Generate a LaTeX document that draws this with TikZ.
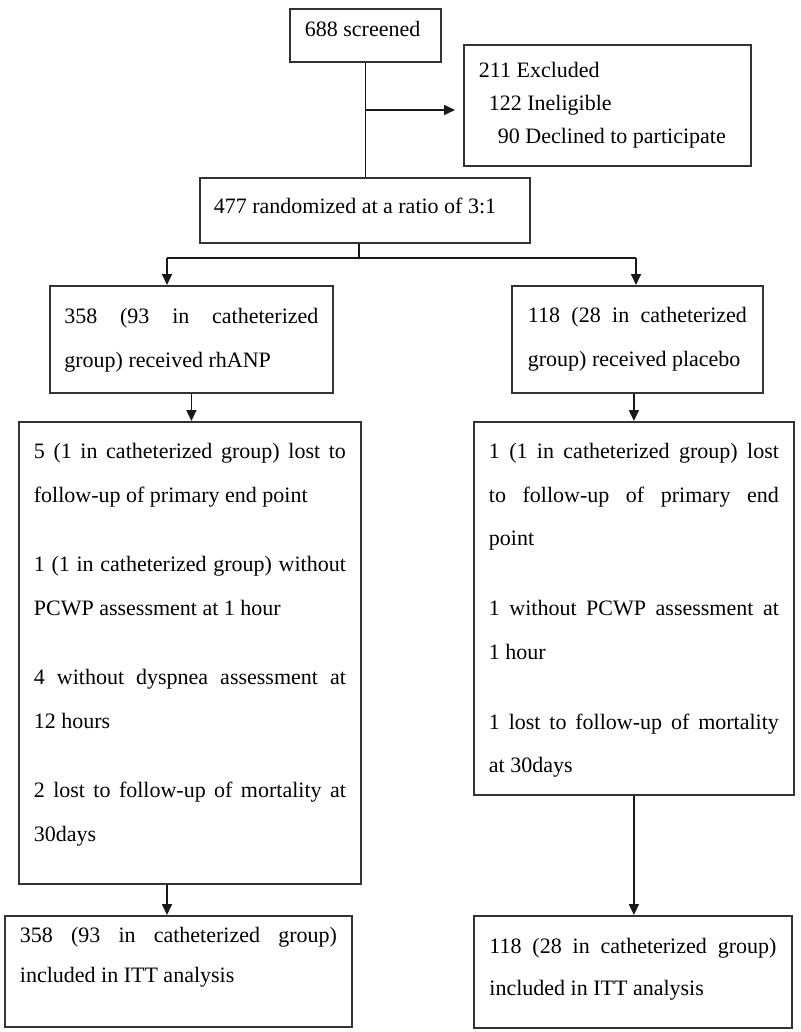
\documentclass[tikz,border=0pt]{standalone}
\usepackage{fontspec}
\setmainfont{Liberation Serif}
\usetikzlibrary{arrows.meta,calc}
\newcommand{\bxt}[5]{\parbox[c][#1][t]{#2}{\fontsize{22pt}{#4}\selectfont\tolerance=10000\hbadness=10000\hyphenpenalty=10000\exhyphenpenalty=10000\rule{0pt}{#3}#5}}
\tikzset{
  box/.style={draw=black!80, line width=1.8pt, inner ysep=0pt, anchor=north west, text=black},
  conn/.style={draw=black!90, line width=1.7pt},
  arr/.style={conn, -{Triangle[length=11pt,width=10pt]}}
}
\begin{document}
\begin{tikzpicture}[x=1pt,y=-1pt]
\useasboundingbox[fill=white] (0,0) rectangle (800,1032);
% boxes
\node[box, inner xsep=15pt] (scr) at (289,8) {\bxt{53pt}{121pt}{28pt}{44pt}{\raggedright 688 screened}};
\node[box, inner xsep=15pt] (exc) at (463,44) {\bxt{121pt}{257pt}{33pt}{33pt}{\raggedright 211 Excluded\\ \hspace*{10pt}122 Ineligible\\ \hspace*{19pt}90 Declined to participate}};
\node[box, inner xsep=14pt] (rnd) at (199,177) {\bxt{65pt}{302pt}{36pt}{44pt}{\raggedright 477 randomized at a ratio of 3:1}};
\node[box, inner xsep=14.5pt] (rh) at (49,285) {\bxt{107pt}{254pt}{38pt}{44pt}{358 (93 in catheterized\linebreak group) received rhANP}};
\node[box, inner xsep=16pt] (pl) at (511,285) {\bxt{107pt}{219pt}{37pt}{44pt}{118 (28 in catheterized\linebreak group) received placebo}};
\node[box, inner xsep=15pt] (lossL) at (18,421) {\bxt{462pt}{312pt}{37pt}{43.5pt}{5 (1 in catheterized group) lost to\linebreak follow-up of primary end point\par\vspace{26pt}
1 (1 in catheterized group) without\linebreak PCWP assessment at 1 hour\par\vspace{26pt}
4 without dyspnea assessment at\linebreak 12 hours\par\vspace{26pt}
2 lost to follow-up of mortality at\linebreak 30days}};
\node[box, inner xsep=15pt] (lossR) at (473,421) {\bxt{373pt}{290pt}{37pt}{43.5pt}{1 (1 in catheterized group) lost\linebreak to follow-up of primary end\linebreak point\par\vspace{26.5pt}
1 without PCWP assessment at\linebreak 1 hour\par\vspace{26.5pt}
1 lost to follow-up of mortality\linebreak at 30days}};
\node[box, inner xsep=15pt] (ittL) at (4,915) {\bxt{111pt}{317pt}{27pt}{40pt}{358 (93 in catheterized group)\linebreak included in ITT analysis}};
\node[box, inner xsep=15.5pt] (ittR) at (473,915) {\bxt{112pt}{287pt}{38pt}{42pt}{118 (28 in catheterized group)\linebreak included in ITT analysis}};
% connectors
\coordinate (j1) at (scr.south |- 0,110);
\draw[conn] (scr.south) -- (scr.south |- rnd.north);
\draw[arr, shorten >=8pt] (j1) -- (j1 -| exc.west);
\coordinate (j2) at (359,258);
\coordinate (jl) at (167,258);
\coordinate (jr) at (636,258);
\draw[conn] (rnd.south -| j2) -- (j2);
\draw[conn] (jl) -- (jr);
\draw[arr] (jl) -- (jl |- rh.north);
\draw[arr] (jr) -- (jr |- pl.north);
\draw[arr] (rh.south) -- (rh.south |- lossL.north);
\draw[arr] (lossR.north |- pl.south) -- (lossR.north);
\draw[arr] (lossL.south -| jl) -- (ittL.north -| jl);
\draw[arr] (lossR.south) -- (lossR.south |- ittR.north);
\end{tikzpicture}
\end{document}
